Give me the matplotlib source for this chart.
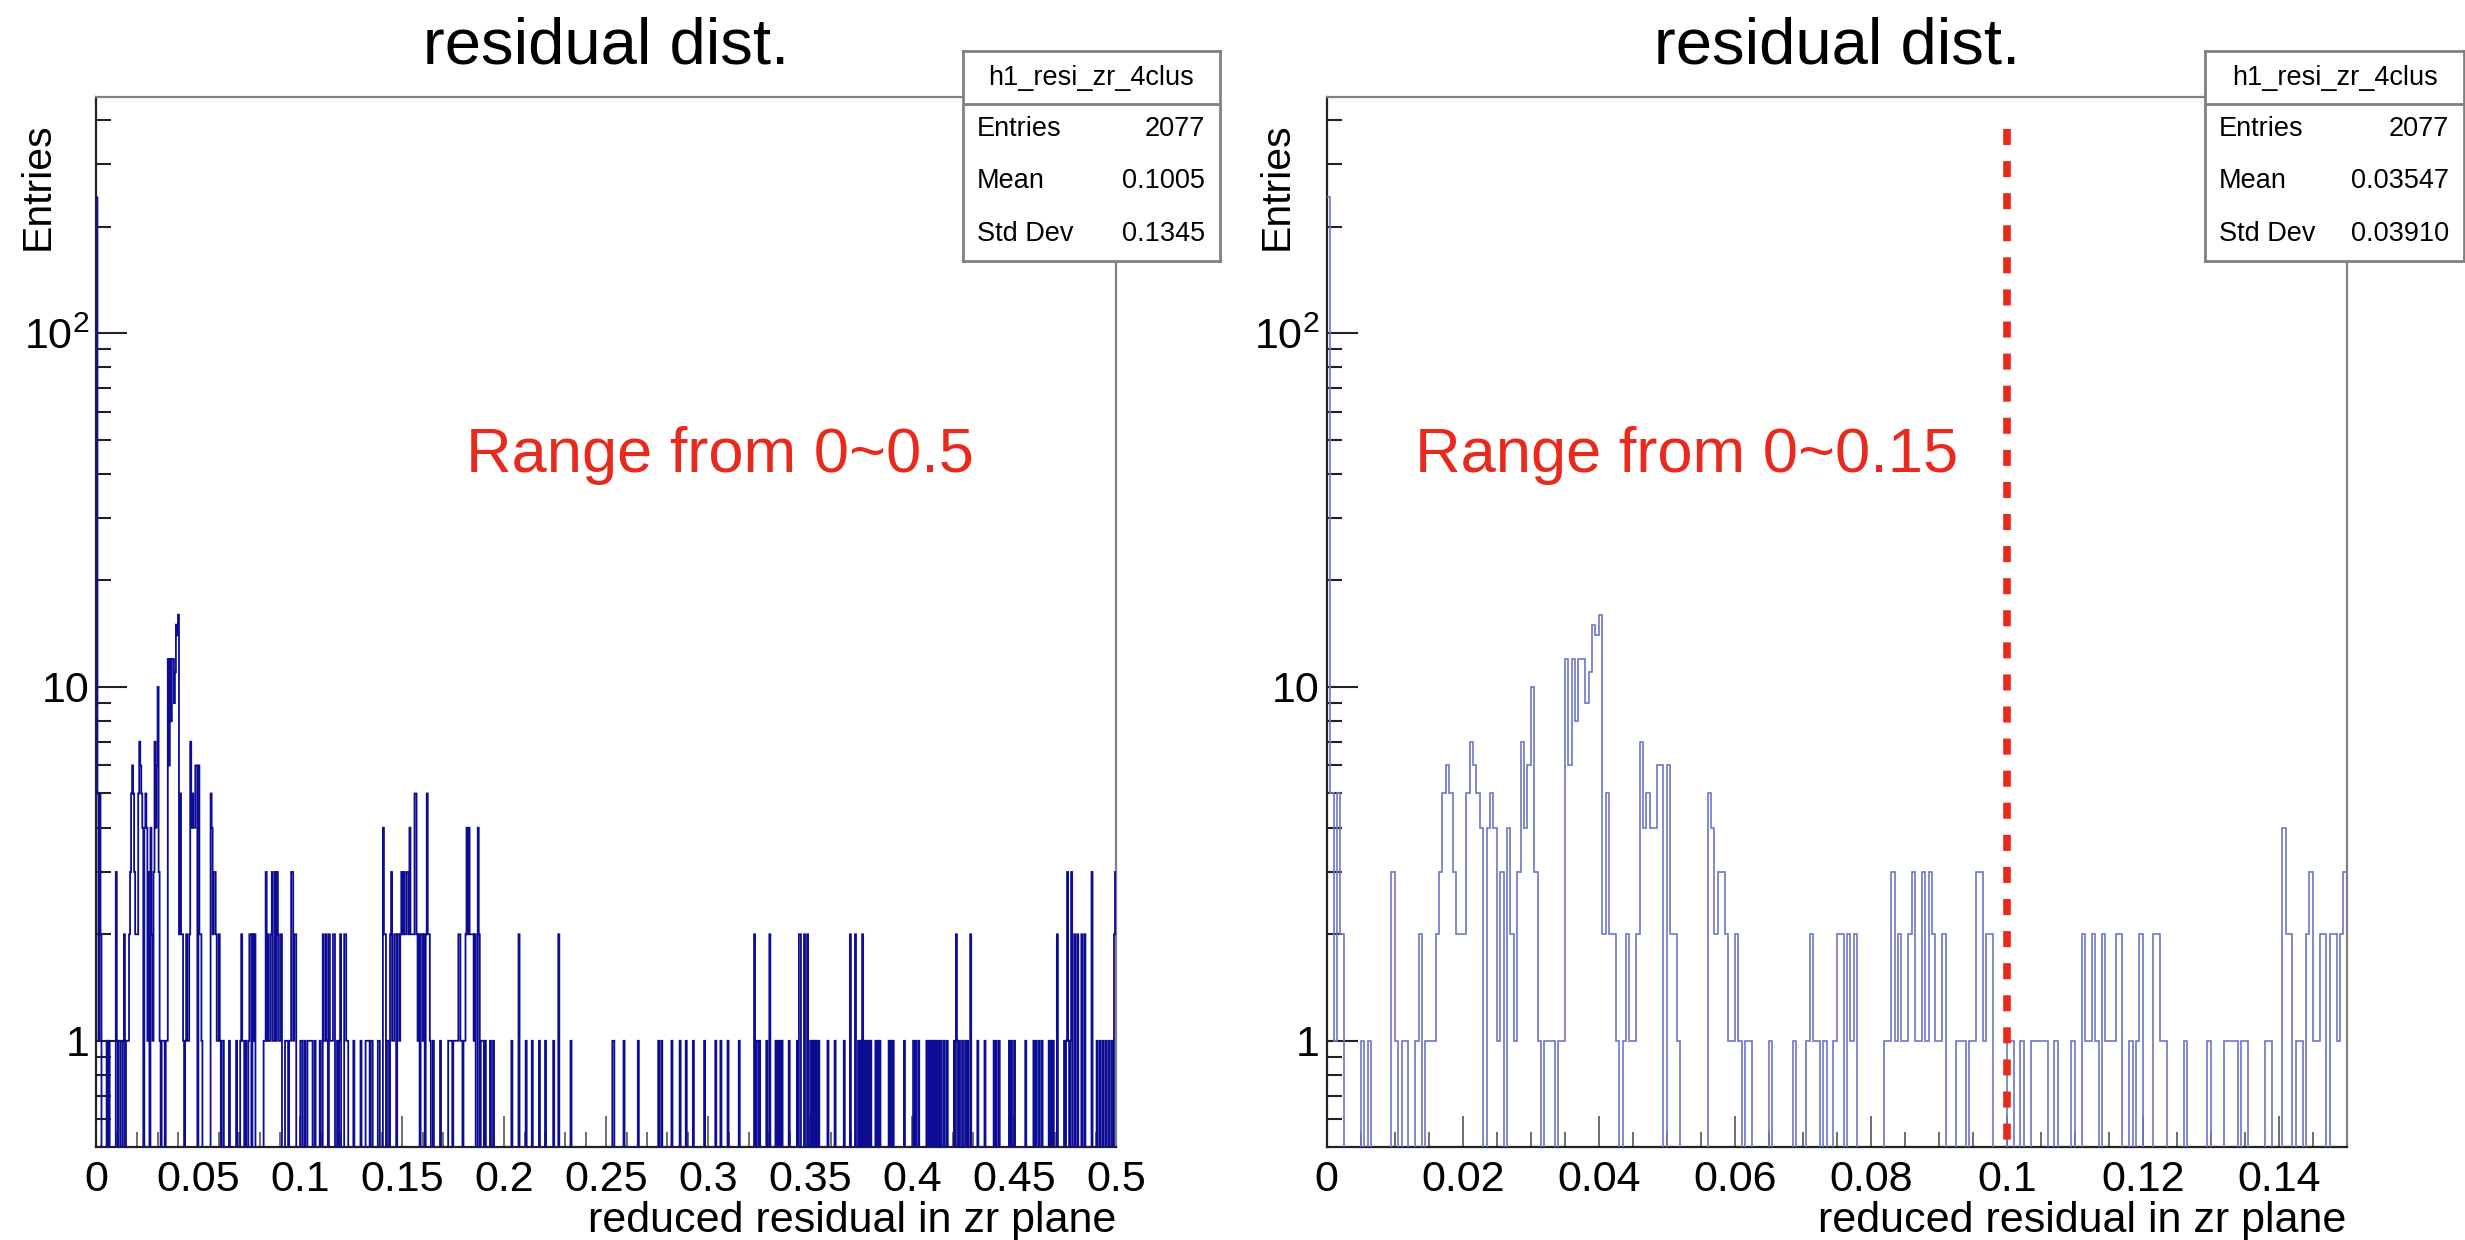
import numpy as np
import matplotlib
matplotlib.use("Agg")
import matplotlib.pyplot as plt
from matplotlib.ticker import FixedLocator, NullFormatter

plt.rcParams['font.family'] = ['Liberation Sans', 'DejaVu Sans']
plt.rcParams['mathtext.fontset'] = 'custom'
plt.rcParams['mathtext.rm'] = 'Liberation Sans'
plt.rcParams['mathtext.it'] = 'Liberation Sans'

# ---------------- data ----------------
BIN_W = 0.0005
# counts of the 0~0.15 histogram, 300 bins of 0.0005
right_counts = [
    242, 5, 1, 5, 2, 0, 0, 0, 0, 0, 1, 0, 1, 0, 0, 0, 0, 0, 0, 3,
    1, 0, 1, 1, 0, 0, 1, 2, 0, 1, 1, 1, 2, 3, 5, 6, 5, 3, 2, 2,
    2, 5, 7, 6, 5, 4, 0, 4, 5, 4, 1, 3, 0, 4, 2, 1, 3, 7, 4, 6,
    10, 3, 1, 0, 1, 1, 1, 0, 1, 1, 12, 6, 12, 8, 12, 12, 9, 11, 15, 14,
    16, 2, 5, 2, 2, 1, 0, 1, 2, 1, 1, 2, 7, 4, 5, 4, 4, 6, 6, 0,
    6, 2, 2, 1, 0, 0, 0, 0, 0, 0, 0, 0, 5, 4, 2, 3, 3, 2, 1, 1,
    2, 1, 0, 1, 1, 0, 0, 0, 0, 0, 1, 0, 0, 0, 0, 0, 0, 1, 0, 0,
    0, 1, 2, 1, 1, 0, 1, 0, 0, 1, 2, 2, 0, 2, 1, 2, 0, 0, 0, 0,
    0, 0, 0, 0, 1, 1, 3, 1, 2, 1, 1, 2, 3, 1, 1, 3, 1, 3, 2, 1,
    1, 2, 0, 0, 0, 1, 1, 1, 0, 1, 1, 3, 3, 1, 2, 2, 0, 0, 0, 0,
    1, 1, 0, 0, 1, 0, 0, 1, 1, 1, 1, 1, 0, 0, 1, 0, 0, 0, 0, 1,
    0, 0, 2, 1, 1, 2, 1, 0, 2, 1, 1, 1, 2, 2, 0, 0, 1, 0, 1, 2,
    0, 0, 0, 2, 2, 1, 1, 0, 0, 0, 0, 0, 1, 0, 0, 0, 0, 0, 0, 1,
    0, 0, 0, 0, 1, 1, 1, 1, 0, 1, 1, 0, 0, 0, 0, 0, 1, 1, 0, 0,
    0, 4, 2, 2, 0, 1, 1, 0, 2, 3, 1, 1, 2, 2, 0, 2, 2, 1, 2, 3,
]
# non-empty bins of the 0~0.5 histogram beyond 0.15 (bin index, count)
tail_bins = [
    300, 301, 302, 303, 304, 305, 306, 307, 308, 309, 310, 311, 312, 313, 314, 315,
    316, 318, 319, 320, 321, 323, 324, 325, 326, 327, 330, 337, 345, 346, 347, 348,
    350, 351, 352, 353, 354, 355, 356, 357, 358, 360, 361, 362, 363, 364, 365, 366,
    367, 368, 369, 370, 371, 374, 375, 377, 378, 379, 381, 386, 389, 407, 414, 421,
    427, 434, 440, 448, 453, 465,
    506, 507, 517, 531, 551, 554, 564, 572, 578, 585, 596, 607, 612, 619, 630, 645,
    647, 648, 650, 657, 660, 666, 668, 670, 672, 679, 687, 689, 690, 694, 697, 700,
    702, 704, 706, 708, 717, 724, 733, 739, 744, 747, 749, 751, 753, 755, 757, 759,
    764, 766, 768, 777, 779, 781, 792, 801, 803, 806, 814, 816, 818, 820, 822, 824,
    826, 828, 831, 834, 841, 843, 844, 846, 849, 852, 854, 857, 864, 871, 880, 882,
    885, 895, 897, 900, 911, 919, 921, 924, 927, 934, 936, 938, 942, 949, 951, 952,
    953, 955, 956, 959, 962, 966, 969, 976, 981, 984, 987, 990, 993, 996, 998, 999,
]
tail_counts = [
    2, 3, 2, 2, 3, 3, 2, 4, 2, 2, 2, 2, 5, 5, 2, 1,
    2, 2, 2, 1, 2, 2, 5, 2, 2, 1, 1, 1, 1, 1, 1, 1,
    1, 1, 1, 1, 1, 2, 2, 1, 1, 1, 1, 2, 4, 2, 4, 2,
    2, 2, 2, 1, 2, 4, 2, 1, 1, 1, 1, 1, 1, 1, 2, 1,
    1, 1, 1, 1, 2, 1,
    1, 1, 1, 1, 1, 1, 1, 1, 1, 1, 1, 1, 1, 1, 1, 2,
    1, 1, 1, 1, 2, 1, 1, 1, 1, 1, 1, 2, 2, 2, 2, 1,
    1, 1, 1, 1, 1, 1, 1, 2, 2, 1, 1, 2, 1, 1, 1, 1,
    1, 1, 1, 1, 1, 1, 1, 1, 1, 1, 1, 1, 1, 1, 1, 1,
    1, 1, 1, 1, 1, 2, 1, 1, 1, 1, 1, 2, 1, 1, 1, 1,
    1, 1, 1, 1, 1, 1, 1, 1, 1, 1, 1, 1, 2, 1, 1, 3,
    1, 1, 3, 2, 2, 2, 2, 3, 1, 1, 1, 1, 1, 1, 2, 3,
]
left_xticks = [0, 0.05, 0.1, 0.15, 0.2, 0.25, 0.3, 0.35, 0.4, 0.45, 0.5]
left_xlabels = ["0", "0.05", "0.1", "0.15", "0.2", "0.25", "0.3", "0.35", "0.4", "0.45", "0.5"]
right_xticks = [0, 0.02, 0.04, 0.06, 0.08, 0.1, 0.12, 0.14]
right_xlabels = ["0", "0.02", "0.04", "0.06", "0.08", "0.1", "0.12", "0.14"]
y_ticks = [1, 10, 100]
y_labels = ["1", "10", r"$10^{2}$"]
y_minor = [0.6, 0.7, 0.8, 0.9, 2, 3, 4, 5, 6, 7, 8, 9, 20, 30, 40, 50, 60, 70, 80, 90, 200, 300, 400]
stats_left = [("Entries", "2077"), ("Mean", "0.1005"), ("Std Dev", "0.1345")]
stats_right = [("Entries", "2077"), ("Mean", "0.03547"), ("Std Dev", "0.03910")]
hist_name = "h1_resi_zr_4clus"
title = "residual dist."
xlab = "reduced residual in zr plane"
ylab = "Entries"
cut_value = 0.1
cut_top = 377

left_counts = np.zeros(1000)
left_counts[:300] = right_counts
left_counts[np.array(tail_bins)] = tail_counts
right_arr = np.array(right_counts, dtype=float)

# ---------------- figure ----------------
W, H = 2465, 1240
fig = plt.figure(figsize=(W / 100, H / 100), dpi=100)

def px_box(x0, y0, x1, y1):
    return [x0 / W, 1 - y1 / H, (x1 - x0) / W, (y1 - y0) / H]

RED = '#e8291c'

def panel(rect, counts, xmax, color, lw, xt, xtl, minor_step, red_txt, red_x, box_x0, box_x1, stats, ylab_x):
    ax = fig.add_axes(px_box(*rect))
    edges = np.arange(len(counts) + 1) * BIN_W
    vals = np.where(counts > 0, counts, 1e-3)
    ax.stairs(vals, edges, color=color, lw=lw, baseline=None, zorder=3)
    ax.set_yscale('log')
    ax.set_ylim(0.5, 465)
    ax.set_xlim(0, xmax)
    ax.yaxis.set_major_locator(FixedLocator(y_ticks))
    ax.set_yticklabels(y_labels)
    ax.yaxis.set_minor_locator(FixedLocator(y_minor))
    ax.yaxis.set_minor_formatter(NullFormatter())
    ax.set_xticks(xt)
    ax.set_xticklabels(xtl)
    ax.xaxis.set_minor_locator(FixedLocator(np.arange(0, xmax + 1e-9, minor_step)))
    ax.tick_params(axis='both', which='both', direction='in', top=False, right=False)
    ax.tick_params(axis='x', which='major', length=22, width=1.2, color='#555555', labelsize=31, pad=9)
    ax.tick_params(axis='x', which='minor', length=11, width=1.2, color='#555555')
    ax.tick_params(axis='y', which='major', length=22, width=1.5, color='#222222', labelsize=31, pad=5)
    ax.tick_params(axis='y', which='minor', length=11, width=1.5, color='#222222')
    for s in ['left', 'bottom']:
        ax.spines[s].set_color('#222222')
        ax.spines[s].set_linewidth(1.6)
    for s in ['top', 'right']:
        ax.spines[s].set_color('#808080')
        ax.spines[s].set_linewidth(1.6)
    # title
    cx = (rect[0] + rect[2]) / 2
    fig.text(cx / W, 1 - 63 / H, title, fontsize=47, ha='center', va='baseline')
    # axis titles
    fig.text(rect[2] / W, 1 - 1232 / H, xlab, fontsize=31, ha='right', va='baseline')
    fig.text(ylab_x / W, 1 - 122 / H, ylab, fontsize=29.5, rotation=90, ha='center', va='top')
    # red annotation
    fig.text(red_x / W, 1 - 472 / H, red_txt, fontsize=45.5, color=RED, ha='left', va='baseline')
    # stats box
    bax = fig.add_axes(px_box(box_x0, 51, box_x1, 261))
    bw = box_x1 - box_x0
    bax.set_xlim(0, bw)
    bax.set_ylim(210, 0)
    bax.set_xticks([]); bax.set_yticks([])
    bax.set_facecolor('white')
    for s in bax.spines.values():
        s.set_color('#808080'); s.set_linewidth(2)
    bax.plot([0, bw], [53, 53], color='#808080', lw=2)
    bax.text(bw / 2, 27, hist_name, fontsize=19.5, ha='center', va='center')
    for i, (k, v) in enumerate(stats):
        yb = 85 + 52.5 * i
        bax.text(14, yb, k, fontsize=19.5, ha='left', va='baseline')
        bax.text(bw - 15, yb, v, fontsize=19.5, ha='right', va='baseline')
    return ax

axL = panel((96.4, 97, 1116, 1147.3), left_counts, 0.5, '#0c0c94', 1.3,
            left_xticks, left_xlabels, 0.01, "Range from 0~0.5", 466, 963, 1220, stats_left, 38)
axR = panel((1326.7, 97, 2346.7, 1147.3), right_arr, 0.15, '#6d76c6', 1.2,
            right_xticks, right_xlabels, 0.005, "Range from 0~0.15", 1415, 2205, 2464, stats_right, 1277)

axR.plot([cut_value, cut_value], [cut_top, 0.52], color=RED, lw=5.5, dashes=(2.1, 2.1),
         solid_capstyle='butt', dash_capstyle='butt', zorder=4)

fig.savefig("out.png", dpi=100)
